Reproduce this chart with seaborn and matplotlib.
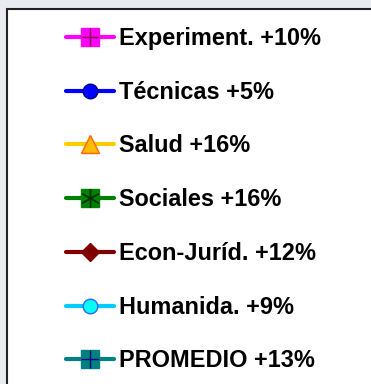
import matplotlib
matplotlib.use("Agg")
import matplotlib.pyplot as plt
from matplotlib.lines import Line2D
from matplotlib.patches import Rectangle
from matplotlib.legend_handler import HandlerTuple
import seaborn as sns

# Series shown in the key: area, growth (%), styling
areas = ["Experiment.", "Técnicas", "Salud", "Sociales", "Econ-Juríd.", "Humanida.", "PROMEDIO"]
growth = [10, 5, 16, 16, 12, 9, 13]
line_colors = ["#ff00ff", "#0000ff", "#ffcc00", "#008000", "#800000", "#00ccff", "#008080"]
marker_faces = ["#ff00ff", "#0000ff", "#ffbb00", "#008000", "#800000", "#00ffff", "#008080"]
marker_edges = ["#ff00ff", "#000080", "#ff6600", "#008000", "#800000", "#3366ff", "#008080"]
markers = ["s", "o", "^", "s", "D", "o", "s"]
marker_sizes = [13, 10.5, 12.5, 13, 9, 10.5, 13]
overlay = ["+", None, None, (6, 2, 0), None, None, "+"]
overlay_colors = ["#800040", None, None, "#003300", None, None, "#000080"]

sns.set_theme(style="white")
plt.rcParams["font.family"] = ["Liberation Sans", "DejaVu Sans"]

W, H, DPI = 371, 384, 100
fig = plt.figure(figsize=(W / DPI, H / DPI), dpi=DPI)
fig.patch.set_facecolor("#e8ecf0")

# White key panel running off the right and bottom edges
fig.patches.append(Rectangle((7.5 / W, -1.0), 2.0, 2.0 - 9 / H, transform=fig.transFigure,
                             facecolor="white", edgecolor="#222222", linewidth=1.5,
                             zorder=0))

handles = []
labels = []
for i, name in enumerate(areas):
    base = Line2D([], [], color=line_colors[i], linewidth=3.0, solid_capstyle="round",
                  marker=markers[i], markersize=marker_sizes[i],
                  markerfacecolor=marker_faces[i], markeredgecolor=marker_edges[i],
                  markeredgewidth=1.0)
    if overlay[i] is not None:
        top = Line2D([], [], linestyle="none", marker=overlay[i], markersize=13.5,
                     markeredgecolor=overlay_colors[i], markeredgewidth=1.0)
        handles.append((base, top))
    else:
        handles.append(base)
    labels.append(f"{name} +{growth[i]}%")

fig.legend(handles, labels, loc="upper left",
           bbox_to_anchor=(66 / W, 1 - 27 / H),
           frameon=False, borderpad=0, borderaxespad=0,
           handlelength=2.06, handletextpad=0.21, labelspacing=1.31,
           prop={"weight": "bold", "size": 16.9}, labelcolor="black",
           handler_map={tuple: HandlerTuple(ndivide=1, pad=0)})

fig.savefig("out.png", dpi=DPI)
